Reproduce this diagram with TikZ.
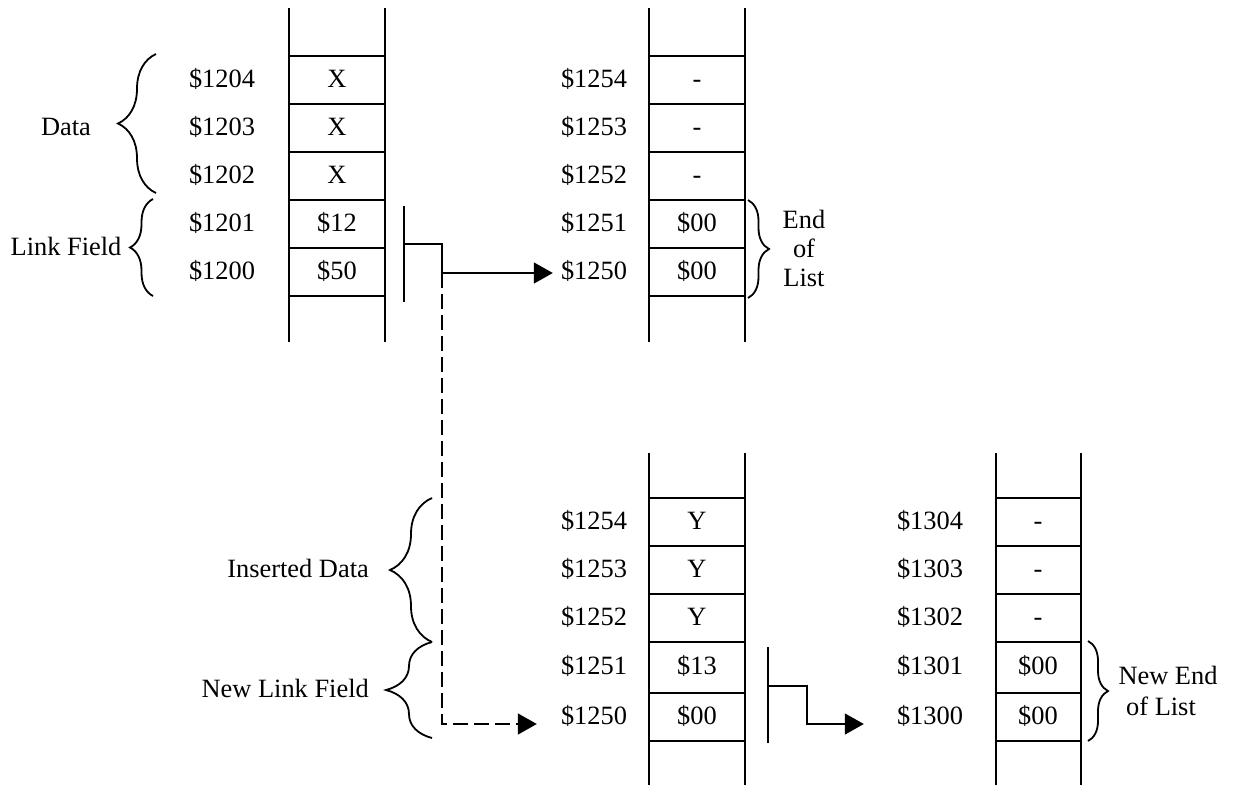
\documentclass[tikz,border=0pt]{standalone}
\usepackage{fontspec}
\setmainfont{Liberation Serif}
\usetikzlibrary{arrows.meta,decorations.pathreplacing}
\begin{document}
\begin{tikzpicture}[x=1pt,y=-1pt,
  every node/.style={font=\fontsize{26.4}{30}\selectfont, inner sep=0pt, align=center},
  cell/.style={text height=18pt, text depth=4pt},
  col/.style={line width=2.3pt},
  conn/.style={line width=1.5pt},
  bar/.style={line width=1.5pt},
  dsh/.style={dash pattern=on 15pt off 6pt},
  tipa/.style={-{Triangle[length=19pt,width=21pt]}},
  br/.style={line width=1.8pt, decorate, decoration={brace, amplitude=#1}}]
\useasboundingbox (0,0) rectangle (1233,785);

% ---------- columns ----------
% top left
\draw[col] (289,8) -- (289,342) (385,8) -- (385,342);
\foreach \y in {56,104,152,200,248,296} \draw[col] (289,\y) -- (385,\y);
% top right
\draw[col] (649,8) -- (649,342) (745,8) -- (745,342);
\foreach \y in {56,104,152,200,248,296} \draw[col] (649,\y) -- (745,\y);
% bottom middle
\draw[col] (649,453) -- (649,785) (745,453) -- (745,785);
\foreach \y in {498,546,594,642,693,741} \draw[col] (649,\y) -- (745,\y);
% bottom right
\draw[col] (996,453) -- (996,785) (1081,453) -- (1081,785);
\foreach \y in {498,546,594,642,693,741} \draw[col] (996,\y) -- (1081,\y);

\begin{scope}[every node/.append style={cell}]
% ---------- top left texts ----------
\node (a1204) at (222,80) {\$1204};  \node (v1204) at (337,80) {X};
\node (a1203) at (222,128) {\$1203}; \node (v1203) at (337,128) {X};
\node (a1202) at (222,176) {\$1202}; \node (v1202) at (337,176) {X};
\node (a1201) at (222,224) {\$1201}; \node (v1201) at (337,224) {\$12};
\node (a1200) at (222,272) {\$1200}; \node (v1200) at (337,272) {\$50};

% ---------- top right texts ----------
\node (a1254) at (594,80) {\$1254};  \node (v1254) at (697,80) {-};
\node (a1253) at (594,128) {\$1253}; \node (v1253) at (697,128) {-};
\node (a1252) at (594,176) {\$1252}; \node (v1252) at (697,176) {-};
\node (a1251) at (594,224) {\$1251}; \node (v1251) at (697,224) {\$00};
\node (a1250) at (594,272) {\$1250}; \node (v1250) at (697,272) {\$00};

% ---------- bottom middle texts ----------
\node (b1254) at (594,522) {\$1254}; \node (w1254) at (697,522) {Y};
\node (b1253) at (594,570) {\$1253}; \node (w1253) at (697,570) {Y};
\node (b1252) at (594,618) {\$1252}; \node (w1252) at (697,618) {Y};
\node (b1251) at (594,667) {\$1251}; \node (w1251) at (697,667) {\$13};
\node (b1250) at (594,717) {\$1250}; \node (w1250) at (697,717) {\$00};

% ---------- bottom right texts ----------
\node (c1304) at (930,522) {\$1304}; \node (u1304) at (1038,522) {-};
\node (c1303) at (930,570) {\$1303}; \node (u1303) at (1038,570) {-};
\node (c1302) at (930,618) {\$1302}; \node (u1302) at (1038,618) {-};
\node (c1301) at (930,667) {\$1301}; \node (u1301) at (1038,667) {\$00};
\node (c1300) at (930,717) {\$1300}; \node (u1300) at (1038,717) {\$00};

\node (data) at (66,128) {Data};
\node (link) at (66,248) {Link Field};
\node[anchor=east] (ins) at (369,570) {Inserted Data};
\node[anchor=east] (nlf) at (369,690) {New Link Field};
\end{scope}

% ---------- braces and labels ----------
\draw[br=38] (156,193) -- (156,54);
\draw[br=23] (153,296) -- (153,199);
\draw[br=21] (748,200) -- (748,298);
\node (eol) at (804,248) {End\\[-1pt]of\\[-1pt]List};
\draw[br=42] (432,642) -- (432,498);
\draw[br=46] (432,738) -- (432,642);
\draw[br=20] (1088,641) -- (1088,741);
\node (neol) at (1168,691) {New End\\[1pt]\hspace*{-14pt}of List};

% ---------- connectors ----------
\coordinate (p1t) at (404,206);
\coordinate (p1b) at (404,302);
\coordinate (p1m) at (404,244);
\coordinate (k1) at (442,273);
\coordinate (k2) at (442,724);
\draw[bar] (p1t) -- (p1b);
\draw[conn,tipa,shorten >=8pt] (p1m) -| (k1) -- (a1250.west |- k1);
\draw[conn,dsh,tipa,shorten >=24pt] (k1) -- (k2) -- (b1250.west |- k2);

\coordinate (p2t) at (768,647);
\coordinate (p2b) at (768,743);
\coordinate (p2m) at (768,686);
\coordinate (k3) at (807,724);
\draw[bar] (p2t) -- (p2b);
\draw[conn,tipa,shorten >=33pt] (p2m) -| (k3) -- (c1300.west |- k3);
\end{tikzpicture}
\end{document}
